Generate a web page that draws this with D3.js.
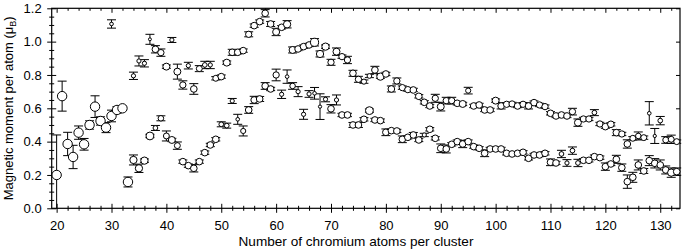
<!DOCTYPE html>
<html>
<head>
<meta charset="utf-8">
<script src="https://cdn.jsdelivr.net/npm/d3@7"></script>
<style>
  body { margin: 0; background: #fff; }
  svg { display: block; font-family: "Liberation Sans", Arial, sans-serif; }
</style>
</head>
<body>
<svg id="chart" width="682" height="252"></svg>
<script>
// [cluster size N, moment per atom (muB), error, relative signal]
const branchA = [
  [20, 0.20, 0.24, 1], [21, 0.673, 0.09, 1], [22, 0.386, 0.07, 1], [23, 0.308, 0.07, 1],
  [24, 0.454, 0.04, 1], [25, 0.384, 0.035, 1], [26, 0.50, 0.025, 1], [27, 0.61, 0.065, 1],
  [28, 0.524, 0.025, 1], [29, 0.484, 0.03, 1], [30, 0.554, 0.035, 1], [31, 0.59, 0.02, 1],
  [32, 0.60, 0.01, 1], [33, 0.158, 0.03, 1], [34, 0.29, 0.03, 0.6], [35, 0.24, 0.025, 0.6],
  [36, 0.286, 0.01, 0.6], [37, 0.434, 0.01, 0.7], [38, 0.482, 0.015, 0.25], [39, 0.54, 0.015, 0.35],
  [40, 0.434, 0.03, 0.4], [41, 0.41, 0.01, 0.55], [42, 0.376, 0.022, 0.4], [43, 0.28, 0.01, 0.5],
  [44, 0.256, 0.01, 0.5], [45, 0.24, 0.022, 0.5], [46, 0.28, 0.01, 0.5], [47, 0.334, 0.01, 0.5],
  [48, 0.38, 0.01, 0.5], [49, 0.414, 0.01, 0.5], [50, 0.504, 0.015, 0.25], [51, 0.496, 0.015, 0.25],
  [52, 0.644, 0.015, 0.2], [53, 0.534, 0.03, 0.15], [54, 0.464, 0.03, 0.3], [55, 0.59, 0.02, 0.5],
  [56, 0.65, 0.022, 0.5], [57, 0.656, 0.015, 0.5], [58, 0.734, 0.02, 0.5], [59, 0.716, 0.01, 0.5],
  [60, 0.80, 0.035, 0.45], [61, 0.684, 0.025, 0.2], [62, 0.79, 0.04, 0.15], [63, 0.734, 0.02, 0.35],
  [64, 0.70, 0.03, 0.2], [65, 0.564, 0.03, 0.2], [66, 0.686, 0.02, 0.2], [67, 0.69, 0.035, 0.15],
  [68, 0.61, 0.077, 0.12], [69, 0.654, 0.015, 0.2], [70, 0.597, 0.025, 0.5], [71, 0.65, 0.03, 0.2],
  [72, 0.56, 0.01, 0.5], [73, 0.56, 0.01, 0.5], [74, 0.50, 0.015, 0.5], [75, 0.50, 0.015, 0.5],
  [76, 0.534, 0.01, 0.5], [77, 0.586, 0.01, 0.7], [78, 0.53, 0.01, 0.5], [79, 0.526, 0.01, 0.5],
  [80, 0.456, 0.02, 0.5], [81, 0.466, 0.01, 0.5], [82, 0.464, 0.01, 0.5], [83, 0.414, 0.02, 0.5],
  [84, 0.426, 0.01, 0.5], [85, 0.44, 0.015, 0.5], [86, 0.41, 0.01, 0.5], [87, 0.44, 0.01, 0.2],
  [88, 0.474, 0.01, 0.5], [89, 0.42, 0.01, 0.5], [90, 0.36, 0.026, 0.5], [91, 0.356, 0.024, 0.5],
  [92, 0.384, 0.01, 0.5], [93, 0.40, 0.01, 0.5], [94, 0.386, 0.022, 0.5], [95, 0.40, 0.01, 0.5],
  [96, 0.37, 0.01, 0.5], [97, 0.36, 0.01, 0.5], [98, 0.33, 0.02, 0.5], [99, 0.356, 0.01, 0.5],
  [100, 0.356, 0.01, 0.5], [101, 0.356, 0.01, 0.5], [102, 0.33, 0.01, 0.5], [103, 0.326, 0.01, 0.5],
  [104, 0.33, 0.01, 0.5], [105, 0.336, 0.01, 0.5], [106, 0.30, 0.01, 0.5], [107, 0.32, 0.01, 0.5],
  [108, 0.32, 0.01, 0.5], [109, 0.33, 0.01, 0.5], [110, 0.276, 0.02, 0.5], [111, 0.272, 0.01, 0.5],
  [112, 0.326, 0.022, 0.25], [113, 0.272, 0.02, 0.2], [114, 0.346, 0.022, 0.25], [115, 0.272, 0.022, 0.25],
  [116, 0.288, 0.01, 0.5], [117, 0.288, 0.01, 0.5], [118, 0.31, 0.01, 0.5], [119, 0.304, 0.01, 0.5],
  [120, 0.25, 0.022, 0.5], [121, 0.266, 0.01, 0.5], [122, 0.294, 0.024, 0.5], [123, 0.244, 0.022, 0.5],
  [124, 0.16, 0.04, 0.5], [125, 0.186, 0.03, 0.5], [126, 0.26, 0.03, 0.5], [127, 0.224, 0.015, 0.5],
  [128, 0.286, 0.03, 0.5], [129, 0.27, 0.028, 0.5], [130, 0.26, 0.03, 0.5], [131, 0.23, 0.024, 0.5],
  [132, 0.214, 0.028, 0.6], [133, 0.22, 0.022, 0.5]
];

const branchB = [
  [30, 1.106, 0.025, 0.15], [34, 0.795, 0.022, 0.2], [35, 0.884, 0.03, 0.2], [36, 0.87, 0.022, 0.2],
  [37, 1.014, 0.03, 0.1], [38, 0.954, 0.022, 0.5], [39, 0.934, 0.022, 0.45], [40, 0.85, 0.01, 0.55],
  [41, 1.01, 0.015, 0.2], [42, 0.82, 0.045, 0.55], [43, 0.74, 0.025, 0.45], [44, 0.856, 0.02, 0.2],
  [45, 0.716, 0.032, 0.5], [46, 0.838, 0.018, 0.4], [47, 0.86, 0.022, 0.25], [48, 0.86, 0.022, 0.2],
  [49, 0.78, 0.01, 0.4], [50, 0.79, 0.01, 0.5], [51, 0.874, 0.01, 0.55], [52, 0.936, 0.018, 0.5],
  [53, 0.936, 0.01, 0.5], [54, 0.946, 0.01, 0.5], [55, 1.044, 0.015, 0.45], [56, 1.096, 0.01, 0.5],
  [57, 1.12, 0.01, 0.5], [58, 1.17, 0.022, 0.5], [59, 1.106, 0.015, 0.5], [60, 1.058, 0.022, 0.55],
  [61, 1.086, 0.01, 0.5], [62, 1.104, 0.022, 0.6], [63, 0.95, 0.018, 0.55], [64, 0.956, 0.01, 0.5],
  [65, 0.97, 0.01, 0.5], [66, 0.98, 0.01, 0.5], [67, 0.996, 0.022, 0.75], [68, 0.926, 0.018, 0.6],
  [69, 0.97, 0.01, 0.6], [70, 0.876, 0.018, 0.45], [71, 0.94, 0.022, 0.55], [72, 0.91, 0.01, 0.45],
  [73, 0.89, 0.022, 0.45], [74, 0.81, 0.018, 0.5], [75, 0.774, 0.018, 0.45], [76, 0.76, 0.01, 0.3],
  [77, 0.794, 0.01, 0.25], [78, 0.83, 0.022, 0.5], [79, 0.79, 0.01, 0.6], [80, 0.806, 0.01, 0.5],
  [81, 0.716, 0.018, 0.5], [82, 0.764, 0.018, 0.45], [83, 0.724, 0.01, 0.45], [84, 0.712, 0.01, 0.45],
  [85, 0.71, 0.01, 0.5], [86, 0.672, 0.01, 0.5], [87, 0.636, 0.01, 0.5], [88, 0.614, 0.01, 0.5],
  [89, 0.66, 0.024, 0.45], [90, 0.61, 0.026, 0.55], [91, 0.646, 0.02, 0.45], [92, 0.646, 0.02, 0.45],
  [93, 0.63, 0.01, 0.5], [94, 0.626, 0.01, 0.55], [95, 0.706, 0.02, 0.3], [96, 0.614, 0.01, 0.5],
  [97, 0.62, 0.01, 0.5], [98, 0.59, 0.01, 0.5], [99, 0.59, 0.01, 0.5], [100, 0.646, 0.01, 0.55],
  [101, 0.614, 0.018, 0.5], [102, 0.624, 0.01, 0.45], [103, 0.626, 0.01, 0.45], [104, 0.614, 0.01, 0.5],
  [105, 0.624, 0.01, 0.45], [106, 0.614, 0.018, 0.5], [107, 0.634, 0.01, 0.5], [108, 0.62, 0.01, 0.45],
  [109, 0.61, 0.01, 0.45], [110, 0.57, 0.01, 0.5], [111, 0.554, 0.01, 0.5], [112, 0.56, 0.01, 0.5],
  [113, 0.554, 0.01, 0.5], [114, 0.58, 0.02, 0.45], [115, 0.514, 0.022, 0.55], [116, 0.536, 0.01, 0.45],
  [117, 0.536, 0.01, 0.45], [118, 0.574, 0.018, 0.25], [119, 0.506, 0.01, 0.45], [120, 0.49, 0.01, 0.5],
  [121, 0.504, 0.01, 0.5], [122, 0.454, 0.018, 0.5], [123, 0.446, 0.01, 0.45], [124, 0.386, 0.025, 0.5],
  [125, 0.42, 0.01, 0.4], [126, 0.434, 0.024, 0.35], [127, 0.424, 0.01, 0.4], [128, 0.57, 0.07, 0.15],
  [129, 0.434, 0.045, 0.12], [130, 0.526, 0.025, 0.25], [131, 0.41, 0.02, 0.4], [132, 0.414, 0.025, 0.4],
  [133, 0.40, 0.01, 0.4]
];

const xMajor = [20, 30, 40, 50, 60, 70, 80, 90, 100, 110, 120, 130];
const yMajor = [0, 0.2, 0.4, 0.6, 0.8, 1.0, 1.2];

const svg = d3.select('#chart');
const plotLeft = 51.7, plotRight = 680, plotTop = 8.3, plotBottom = 208.3;

const x = d3.scaleLinear().domain([19.1, 133.6]).range([plotLeft, plotRight]);
const y = d3.scaleLinear().domain([0, 1.2]).range([plotBottom, plotTop]);
const r = d3.scaleSqrt().domain([0, 1]).range([0, 4.7]);

const xMinor = d3.range(20, 134, 2).filter(v => v % 10 !== 0);
const yMinor = d3.range(1, 24).map(i => +(i * 0.05).toFixed(2)).filter(v => Math.round(v * 100) % 20 !== 0);

// bottom axis, ticks crossing the axis line
const gx = svg.append('g').attr('transform', `translate(0,${plotBottom})`)
  .call(d3.axisBottom(x).tickValues(xMajor).tickSize(4.5).tickPadding(7.5).tickFormat(d3.format('d')));
gx.selectAll('.tick line').attr('y1', -4.5);
const gx2 = svg.append('g').attr('transform', `translate(0,${plotBottom})`)
  .call(d3.axisBottom(x).tickValues(xMinor).tickSize(2.5).tickFormat(''));
gx2.selectAll('.tick line').attr('y1', -2.5);

// left axis
const gy = svg.append('g').attr('transform', `translate(${plotLeft},0)`)
  .call(d3.axisLeft(y).tickValues(yMajor).tickSize(4.5).tickPadding(5.5).tickFormat(d3.format('.1f')));
gy.selectAll('.tick line').attr('x1', 4.5);
const gy2 = svg.append('g').attr('transform', `translate(${plotLeft},0)`)
  .call(d3.axisLeft(y).tickValues(yMinor).tickSize(2.5).tickFormat(''));
gy2.selectAll('.tick line').attr('x1', 2.5);

// top and right axes, inward ticks only
svg.append('g').attr('transform', `translate(0,${plotTop})`)
  .call(d3.axisTop(x).tickValues(xMajor).tickSize(-4.5).tickFormat(''));
svg.append('g').attr('transform', `translate(0,${plotTop})`)
  .call(d3.axisTop(x).tickValues(xMinor).tickSize(-2.5).tickFormat(''));
svg.append('g').attr('transform', `translate(${plotRight},0)`)
  .call(d3.axisRight(y).tickValues(yMajor).tickSize(-4).tickFormat(''));

svg.selectAll('.domain').remove();
svg.selectAll('.tick line').attr('stroke', '#000').attr('stroke-width', 1);
svg.selectAll('.tick text').attr('font-size', 13).attr('fill', '#000')
  .attr('font-family', '"Liberation Sans", Arial, sans-serif');

svg.append('rect')
  .attr('x', plotLeft).attr('y', plotTop)
  .attr('width', plotRight - plotLeft).attr('height', plotBottom - plotTop)
  .attr('fill', 'none').attr('stroke', '#000').attr('stroke-width', 1.2);

// data
const points = branchA.concat(branchB).map(d => ({ n: d[0], mu: d[1], err: d[2], w: d[3] }));

const plot = svg.append('g');
const cap = 4.5;

const bars = plot.selectAll('g.err').data(points).join('g').attr('class', 'err')
  .attr('stroke', '#000').attr('stroke-width', 1);
bars.append('line')
  .attr('x1', d => x(d.n)).attr('x2', d => x(d.n))
  .attr('y1', d => y(Math.min(1.2, d.mu + d.err))).attr('y2', d => y(Math.max(0, d.mu - d.err)));
bars.append('line')
  .attr('x1', d => x(d.n) - cap).attr('x2', d => x(d.n) + cap)
  .attr('y1', d => y(d.mu + d.err)).attr('y2', d => y(d.mu + d.err));
bars.filter(d => d.mu - d.err > 0).append('line')
  .attr('x1', d => x(d.n) - cap).attr('x2', d => x(d.n) + cap)
  .attr('y1', d => y(d.mu - d.err)).attr('y2', d => y(d.mu - d.err));

plot.selectAll('circle').data(points).join('circle')
  .attr('cx', d => x(d.n)).attr('cy', d => y(d.mu))
  .attr('r', d => r(d.w))
  .attr('fill', '#fff').attr('stroke', '#000').attr('stroke-width', 1);

// axis titles
svg.append('text')
  .attr('x', 356).attr('y', 246)
  .attr('text-anchor', 'middle').attr('font-size', 13.6)
  .text('Number of chromium atoms per cluster');

const yt = svg.append('text')
  .attr('transform', `translate(12.7,${(plotTop + plotBottom) / 2}) rotate(-90)`)
  .attr('text-anchor', 'middle').attr('font-size', 13);
yt.append('tspan').text('Magnetic moment per atom (\u03bc');
yt.append('tspan').attr('font-size', 9).attr('dy', 3).text('B');
yt.append('tspan').attr('dy', -3).text(')');
</script>
</body>
</html>
